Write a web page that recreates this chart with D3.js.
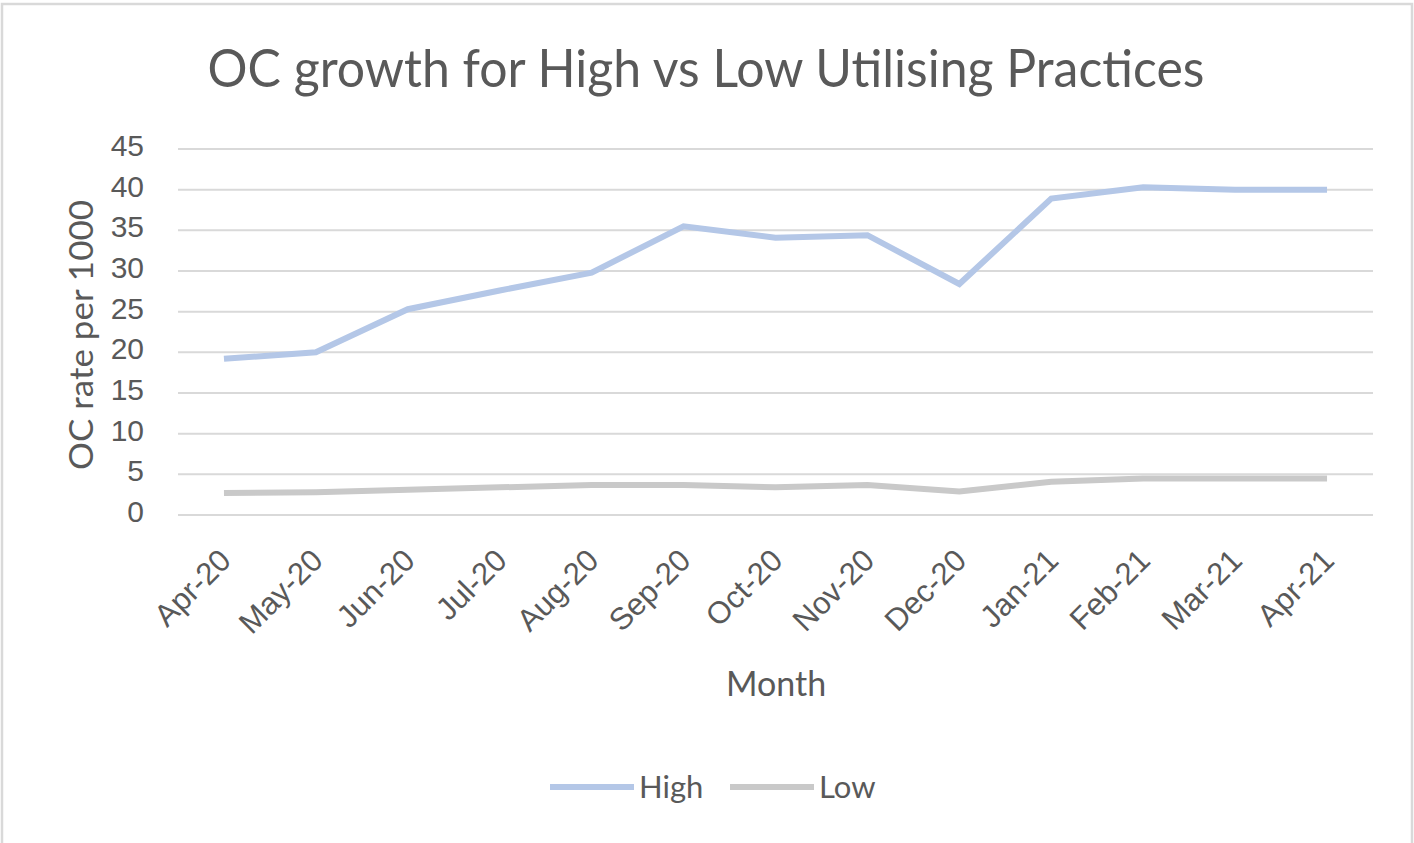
<!DOCTYPE html>
<html>
<head>
<meta charset="utf-8">
<script src="https://cdn.jsdelivr.net/npm/d3@7"></script>
<style>
  body { margin: 0; background: #fff; }
  svg { display: block; font-family: Lato, "Open Sans", sans-serif; }
</style>
</head>
<body>
<svg class="chart"></svg>
<script>
//======
// Data
//======
var months = ["Apr-20", "May-20", "Jun-20", "Jul-20", "Aug-20", "Sep-20", "Oct-20",
  "Nov-20", "Dec-20", "Jan-21", "Feb-21", "Mar-21", "Apr-21"];
var highValues = [19.2, 20.0, 25.3, 27.6, 29.8, 35.5, 34.1, 34.4, 28.4, 38.9, 40.3, 40.0, 40.0];
var lowValues = [2.7, 2.8, 3.1, 3.4, 3.7, 3.7, 3.4, 3.7, 2.9, 4.1, 4.5, 4.5, 4.5];
var yTicks = [0, 5, 10, 15, 20, 25, 30, 35, 40, 45];

//=======
// Chart
//=======
var width = 1414, height = 843;
var textColor = "#595959";

var svg = d3.select(".chart")
  .attr("width", width)
  .attr("height", height);

// chart border
svg.append("rect")
  .attr("x", 2).attr("y", 4)
  .attr("width", 1410).attr("height", 860)
  .attr("fill", "#fff")
  .attr("stroke", "#d9d9d9")
  .attr("stroke-width", 2.5);

var xScale = d3.scalePoint()
  .domain(months)
  .range([178, 1373])
  .padding(0.5);

var yScale = d3.scaleLinear()
  .domain([0, 45])
  .range([515, 149]);

// gridlines
svg.append("g")
  .selectAll("line")
  .data(yTicks)
  .enter()
  .append("line")
  .attr("x1", 178)
  .attr("x2", 1373)
  .attr("y1", function(d) { return yScale(d); })
  .attr("y2", function(d) { return yScale(d); })
  .attr("stroke", "#d9d9d9")
  .attr("stroke-width", 2);

// y tick labels
var yAxis = d3.axisLeft(yScale).tickValues(yTicks).tickSize(0).tickPadding(0);
var yG = svg.append("g")
  .attr("transform", "translate(144,0)")
  .call(yAxis);
yG.select(".domain").remove();
yG.selectAll("text")
  .attr("fill", textColor)
  .style("font-size", "30px")
  .attr("dy", "0.22em");

// x tick labels
var xAxis = d3.axisBottom(xScale).tickSize(0).tickPadding(0);
var xG = svg.append("g")
  .attr("transform", "translate(0,530)")
  .call(xAxis);
xG.select(".domain").remove();
xG.selectAll("text")
  .attr("fill", textColor)
  .style("font-size", "31px")
  .style("text-anchor", "end")
  .attr("dy", "0.7em")
  .attr("transform", "translate(-7,17) rotate(-45)");

// lines
var line = d3.line()
  .x(function(d, i) { return xScale(months[i]); })
  .y(function(d) { return yScale(d); });

svg.append("path")
  .datum(lowValues)
  .attr("d", line)
  .attr("fill", "none")
  .attr("stroke", "#c9c9c9")
  .attr("stroke-width", 6);

svg.append("path")
  .datum(highValues)
  .attr("d", line)
  .attr("fill", "none")
  .attr("stroke", "#b4c7e7")
  .attr("stroke-width", 6);

// title
svg.append("text")
  .attr("x", 706)
  .attr("y", 87)
  .attr("text-anchor", "middle")
  .attr("fill", textColor)
  .attr("textLength", 997)
  .attr("lengthAdjust", "spacingAndGlyphs")
  .style("font-size", "53px")
  .text("OC growth for High vs Low Utilising Practices");

// axis titles
svg.append("text")
  .attr("transform", "translate(93,335) rotate(-90)")
  .attr("text-anchor", "middle")
  .attr("fill", textColor)
  .attr("textLength", 270)
  .attr("lengthAdjust", "spacingAndGlyphs")
  .style("font-size", "33px")
  .text("OC rate per 1000");

svg.append("text")
  .attr("x", 776)
  .attr("y", 696)
  .attr("text-anchor", "middle")
  .attr("fill", textColor)
  .style("font-size", "34px")
  .text("Month");

// legend
var legendItems = [
  { name: "High", color: "#b4c7e7", x: 550 },
  { name: "Low", color: "#c9c9c9", x: 730 }
];
var legend = svg.selectAll(".legend")
  .data(legendItems)
  .enter()
  .append("g")
  .attr("class", "legend")
  .attr("transform", function(d) { return "translate(" + d.x + ",787)"; });
legend.append("line")
  .attr("x1", 0).attr("x2", 84)
  .attr("stroke", function(d) { return d.color; })
  .attr("stroke-width", 6);
legend.append("text")
  .attr("x", 89)
  .attr("dy", "0.36em")
  .attr("fill", textColor)
  .style("font-size", "31px")
  .text(function(d) { return d.name; });
</script>
</body>
</html>
